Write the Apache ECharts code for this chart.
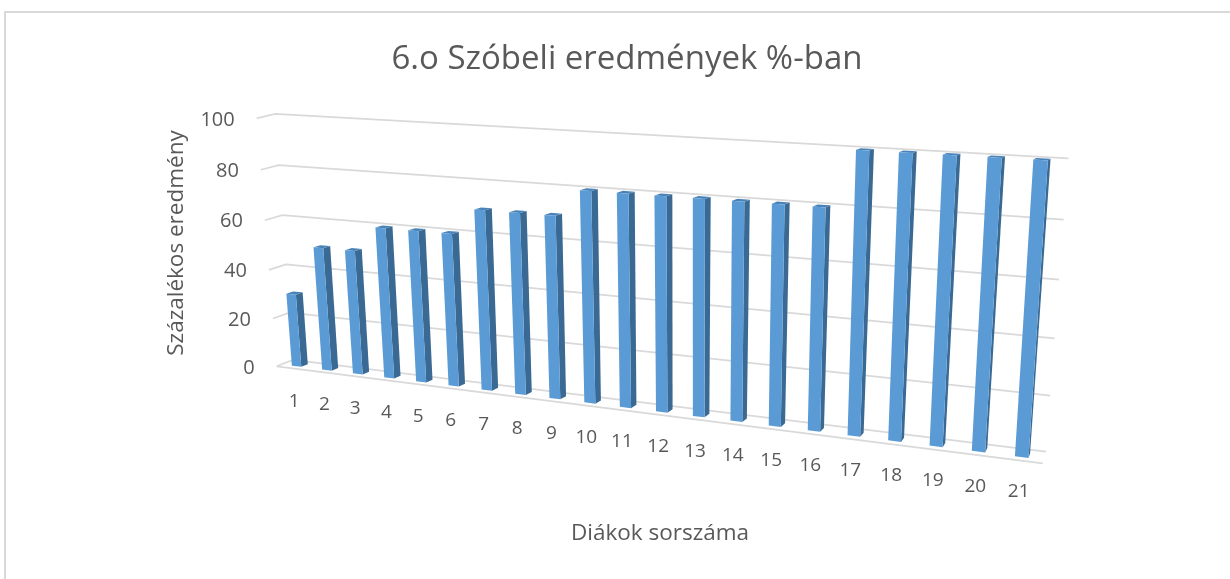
<!DOCTYPE html>
<html>
<head>
<meta charset="utf-8">
<style>html,body{margin:0;padding:0;background:#fff}#main{width:1230px;height:579px}</style>
<script src="https://cdn.jsdelivr.net/npm/echarts@6/dist/echarts.min.js"></script>
</head>
<body>
<div id="main"></div>
<script>
var categories = ['1','2','3','4','5','6','7','8','9','10','11','12','13','14','15','16','17','18','19','20','21'];
var values = [30,50,50,60,60,60,70,70,70,80,80,80,80,80,80,80,100,100,100,100,100];
var yTicks = [0,20,40,60,80,100];

var FONT = '"Open Sans", sans-serif';
var TEXT = '#595959';
var GRIDLINE = '#D9D9D9';

// corners of the perspective box: bl, br, tr, tl (pixels of the picture)
var backQuad = [[293,360],[1046,451.7],[1068.3,158.3],[275,114]];
var frontQuad = [[276.7,366.3],[1042.7,463.3],[1062,162.6],[256.7,118.3]];

// unit square -> quad
function homography(q){
  var x0=q[0][0],y0=q[0][1],x1=q[1][0],y1=q[1][1],x2=q[2][0],y2=q[2][1],x3=q[3][0],y3=q[3][1];
  var dx1=x1-x2,dx2=x3-x2,sx=x0-x1+x2-x3,dy1=y1-y2,dy2=y3-y2,sy=y0-y1+y2-y3;
  var d=dx1*dy2-dx2*dy1;
  var g=(sx*dy2-dx2*sy)/d,h=(dx1*sy-sx*dy1)/d;
  var a=x1-x0+g*x1,b=x3-x0+h*x3,c=x0,e=y1-y0+g*y1,f=y3-y0+h*y3,k=y0;
  return function(u,v){
    var w=g*u+h*v+1;
    return [(a*u+b*v+c)/w,(e*u+f*v+k)/w];
  };
}
var backH = homography(backQuad);
var frontH = homography(frontQuad);

// u,v from 0..1 on the wall, w 0 = back, 1 = front
function project(u,v,w){
  var p=backH(u,v),q=frontH(u,v);
  return [p[0]+(q[0]-p[0])*w,p[1]+(q[1]-p[1])*w];
}
// pixel of the flat hidden grid -> wall coordinates
function toWall(params,pt){
  var cs=params.coordSys;
  return [(pt[0]-cs.x)/cs.width,(cs.y+cs.height-pt[1])/cs.height];
}

function renderGridline(params,api){
  var a=toWall(params,api.coord([0,api.value(0)]));
  var v=a[1];
  var pts=[project(0,v,1),project(0,v,0),project(1,v,0)];
  var lineStyle={stroke:GRIDLINE,lineWidth:1.75,fill:null};
  if(api.value(0)===0){
    // floor has a front edge too
    return {type:'group',children:[
      {type:'polyline',shape:{points:pts},style:lineStyle},
      {type:'polyline',shape:{points:[project(0,v,1),project(1,v,1)]},style:lineStyle}
    ]};
  }
  return {type:'polyline',shape:{points:pts},style:lineStyle};
}

function renderBar(params,api){
  var base=toWall(params,api.coord([api.value(0),0]));
  var top=toWall(params,api.coord([api.value(0),api.value(1)]));
  var half=api.size([1,0])[0]/params.coordSys.width/6.4;
  var l=base[0]-half,r=base[0]+half,v0=base[1],v1=top[1];
  var wf=0.7,wb=0.3;
  return {type:'group',children:[
    {type:'polygon',shape:{points:[project(r,v0,wf),project(r,v0,wb),project(r,v1,wb),project(r,v1,wf)]},style:{fill:'#3A6A94'}},
    {type:'polygon',shape:{points:[project(l,v1,wf),project(r,v1,wf),project(r,v1,wb),project(l,v1,wb)]},style:{fill:'#4A83B8'}},
    {type:'polygon',shape:{points:[project(l,v0,wf),project(r,v0,wf),project(r,v1,wf),project(l,v1,wf)]},style:{fill:'#5B9BD5'}}
  ]};
}

function renderXLabel(params,api){
  var p=toWall(params,api.coord([api.value(0),0]));
  var pos=project(p[0],-0.14+0.03*p[0],1);
  return {type:'text',style:{x:pos[0],y:pos[1],text:categories[api.value(0)],fill:TEXT,font:'19px '+FONT,align:'center',verticalAlign:'middle',textAlign:'center',textVerticalAlign:'middle'}};
}

function renderYLabel(params,api){
  var p=toWall(params,api.coord([0,api.value(0)]));
  var pos=project(0,p[1],1);
  return {type:'text',style:{x:pos[0]-22,y:pos[1]+1.5,text:String(api.value(0)),fill:TEXT,font:'20px '+FONT,align:'right',verticalAlign:'middle',textAlign:'right',textVerticalAlign:'middle'}};
}

var chart = echarts.init(document.getElementById('main'),null,{renderer:'canvas'});
chart.setOption({
  animation:false,
  backgroundColor:'#fff',
  title:{text:'6.o Szóbeli eredmények %-ban',left:622,top:38,textAlign:'center',textStyle:{fontFamily:FONT,fontSize:33,fontWeight:'normal',color:TEXT}},
  graphic:[
    {type:'polyline',shape:{points:[[5,579],[5,12],[1230,12]]},style:{fill:null,stroke:'#D9D9D9',lineWidth:2},silent:true},
    {type:'text',rotation:Math.PI/2,x:177,y:243,style:{text:'Százalékos eredmény',fill:TEXT,font:'22.5px '+FONT,align:'center',verticalAlign:'middle',textAlign:'center',textVerticalAlign:'middle'}},
    {type:'text',x:660,y:534,style:{text:'Diákok sorszáma',fill:TEXT,font:'22.5px '+FONT,align:'center',verticalAlign:'middle',textAlign:'center',textVerticalAlign:'middle'}}
  ],
  // flat hidden grid, its scales feed the perspective projection
  grid:{left:100,right:100,top:100,bottom:100},
  xAxis:{type:'category',data:categories,show:false},
  yAxis:{type:'value',min:0,max:100,interval:20,show:false},
  series:[
    {type:'custom',coordinateSystem:'cartesian2d',clip:false,silent:true,z:1,data:yTicks.map(function(t){return [t];}),encode:{y:0},renderItem:renderGridline},
    {type:'custom',coordinateSystem:'cartesian2d',clip:false,silent:true,z:2,data:values.map(function(v,i){return [i,v];}),encode:{x:0,y:1},renderItem:renderBar},
    {type:'custom',coordinateSystem:'cartesian2d',clip:false,silent:true,z:3,data:categories.map(function(c,i){return [i];}),encode:{x:0},renderItem:renderXLabel},
    {type:'custom',coordinateSystem:'cartesian2d',clip:false,silent:true,z:3,data:yTicks.map(function(t){return [t];}),encode:{y:0},renderItem:renderYLabel}
  ]
});
</script>
</body>
</html>
